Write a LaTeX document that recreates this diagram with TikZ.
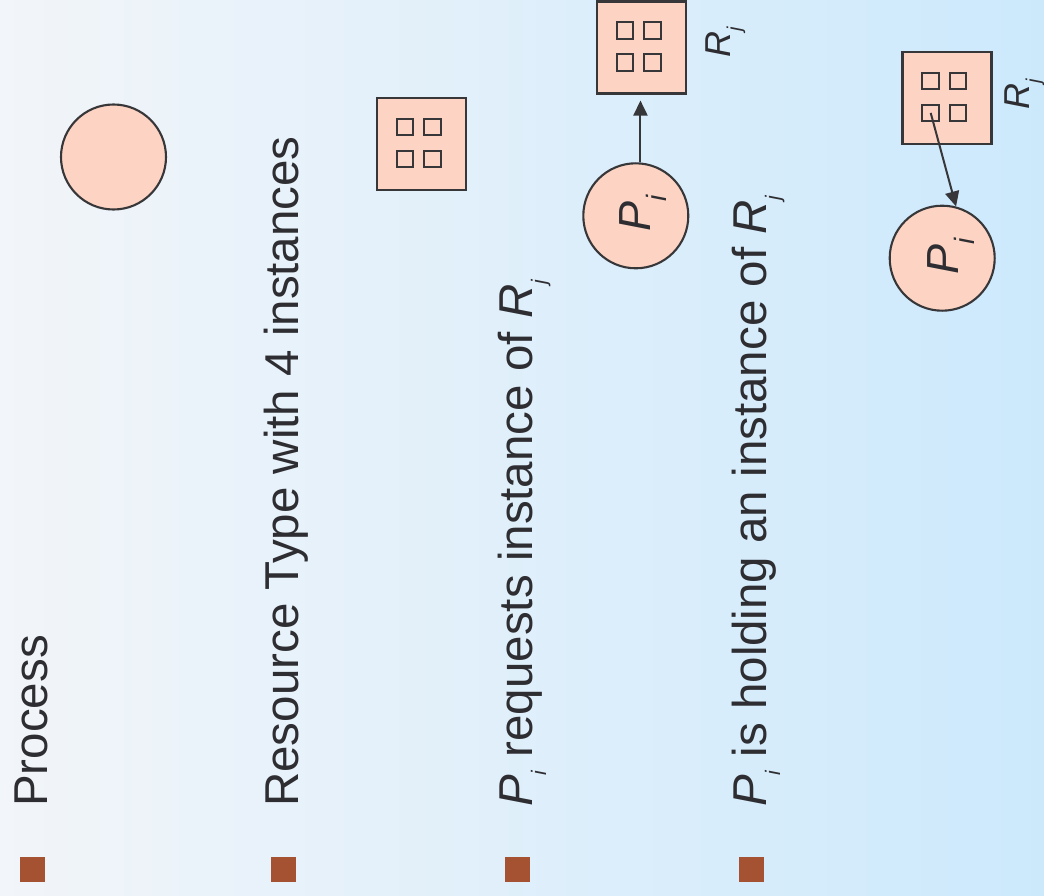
\documentclass[tikz,border=0pt]{standalone}
\usepackage{fontspec}
\setmainfont{Liberation Sans}
\usetikzlibrary{arrows.meta,calc}
\definecolor{bgL}{RGB}{242,245,249}
\definecolor{bgR}{RGB}{204,233,252}
\definecolor{peach}{RGB}{253,212,195}
\definecolor{edgec}{RGB}{55,55,58}
\definecolor{txtc}{RGB}{46,46,50}
\definecolor{bulc}{RGB}{165,82,50}
\newcommand\PiT{\textit{P}\raisebox{-14pt}{\fontsize{21}{21}\selectfont\itshape i}}
\newcommand\RjT{\textit{R}\raisebox{-14pt}{\fontsize{21}{21}\selectfont\itshape j}}
\begin{document}
\begin{tikzpicture}[x=1pt,y=-1pt,
  proc/.style={circle,draw=edgec,line width=2.1pt,fill=peach,minimum size=105pt,inner sep=0},
  res/.style={rectangle,draw=edgec,line width=2.1pt,fill=peach,minimum width=89pt,minimum height=92pt,inner sep=0},
  inst/.style={rectangle,draw=edgec,line width=2pt,minimum size=16.5pt,inner sep=0},
  bulletbox/.style={rectangle,fill=bulc,minimum size=25pt,inner sep=0},
  rowtext/.style={rotate=90,anchor=base west,inner sep=0,text=txtc,font=\fontsize{47.5}{57}\selectfont},
  inlabel/.style={rotate=90,anchor=base west,inner sep=0,text=txtc,font=\fontsize{45}{50}\selectfont},
  rlabel/.style={rotate=90,anchor=base west,inner sep=0,text=txtc,font=\fontsize{36}{40}\selectfont},
  arr/.style={draw=edgec,line width=2pt,-{Triangle[length=15pt,width=14pt]}}]

\shade[left color=bgL,right color=bgR] (0,0) rectangle (1044,896);
\useasboundingbox (0,0) rectangle (1044,896);

% bullets
\node[bulletbox] (b1) at (32,869.5) {};
\node[bulletbox] (b2) at (283,869.5) {};
\node[bulletbox] (b3) at (517,869.5) {};
\node[bulletbox] (b4) at (751,869.5) {};

% row texts
\node[rowtext] (t1) at (47,807) {Process};
\node[rowtext] (t2) at (298,807) {Resource Type with 4 instances};
\node[rowtext] (t3) at (532,807) {\PiT{} requests instance of \RjT};
\node[rowtext] (t4) at (766,807) {\PiT{} is holding an instance of \RjT};

% row 1: process
\node[proc] (c1) at (113.5,157) {};

% row 2: resource
\node[res] (r2) at (421.5,144) {};

% row 3: request
\node[res] (r3) at (641.2,47.5) {};
\node[proc] (c3) at (635.8,215.8) {};
\node[inlabel] (p3) at (650,232) {\textit{P}\raisebox{-16pt}{\fontsize{28}{28}\selectfont\itshape i}};
\node[rlabel] (l3) at (730,58) {\textit{R}\raisebox{-11pt}{\fontsize{20}{20}\selectfont\itshape j}};

% row 4: holding
\node[res] (r4) at (947,98) {};
\node[proc] (c4) at (942.2,258.2) {};
\node[inlabel] (p4) at (958,275) {\textit{P}\raisebox{-16pt}{\fontsize{28}{28}\selectfont\itshape i}};
\node[rlabel] (l4) at (1029,110) {\textit{R}\raisebox{-11pt}{\fontsize{20}{20}\selectfont\itshape j}};

% instances
\foreach \b in {r2,r3,r4}{
  \node[inst] (\b-a) at ($(\b.center)+(-16.3,-17.1)$) {};
  \node[inst] (\b-b) at ($(\b.center)+(11.2,-17.1)$) {};
  \node[inst] (\b-c) at ($(\b.center)+(-16.3,14.9)$) {};
  \node[inst] (\b-d) at ($(\b.center)+(11.2,14.9)$) {};
}

% edges
\draw[arr,shorten >=6pt] (c3.85) -- (c3.85 |- r3.south);
\draw[arr] (r4-c.center) -- (c4.75);
\end{tikzpicture}
\end{document}
